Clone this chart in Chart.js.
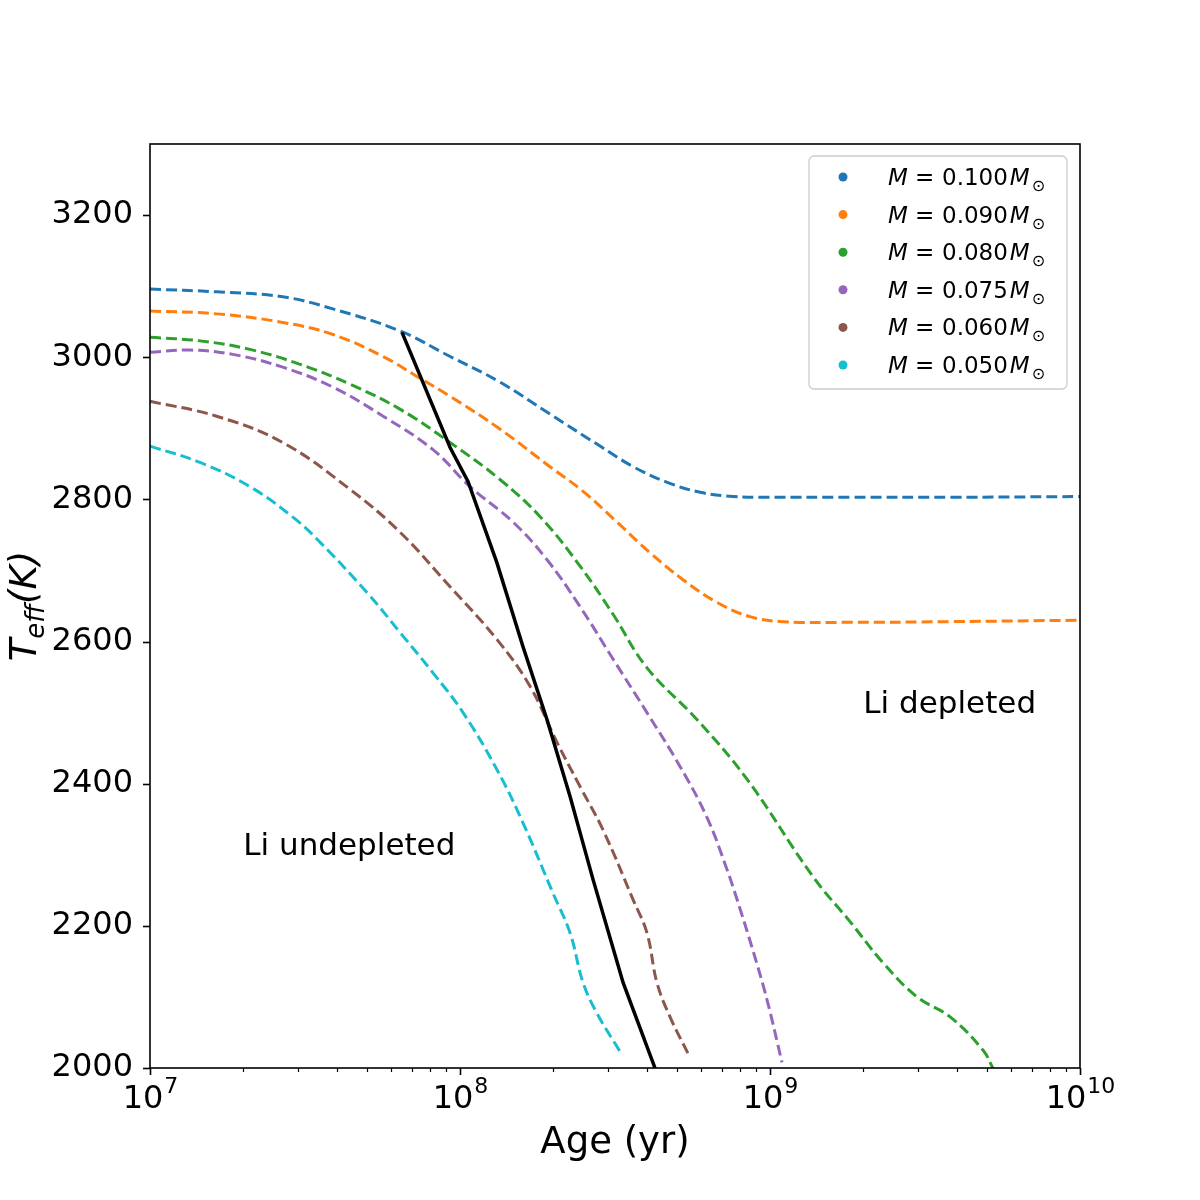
<!DOCTYPE html>
<html>
<head>
<meta charset="utf-8">
<script src="https://cdn.jsdelivr.net/npm/chart.js@4.4.0/dist/chart.umd.min.js"></script>
<style>
  html, body { margin: 0; padding: 0; background: #fff; }
</style>
</head>
<body>
<canvas id="chart" width="1200" height="1200"></canvas>
<script>
// mass tracks: ages in Myr, effective temperature in K
const massLabels = ["0.100", "0.090", "0.080", "0.075", "0.060", "0.050"];
const massColors = ["#1f77b4", "#ff7f0e", "#2ca02c", "#9467bd", "#8c564b", "#17becf"];

const age100 = [10, 16.4, 26.8, 38.9, 64, 92.9, 134.5, 195, 283, 362, 466, 595, 760, 978, 1812, 3810, 10000];
const teff100 = [3096, 3092, 3085, 3068, 3037, 3001, 2965, 2920, 2875, 2846, 2824, 2810, 2804, 2803, 2803, 2803, 2804];

const age090 = [10, 16.4, 26.8, 38.9, 56.5, 72.6, 92.9, 134.5, 195, 250, 321, 410, 524, 675, 861, 1102, 1812, 3810, 10000];
const teff090 = [3065, 3061, 3049, 3032, 3001, 2973, 2945, 2899, 2846, 2811, 2768, 2725, 2687, 2655, 2635, 2628, 2627, 2628, 2630];

const age080 = [10, 14.5, 21, 30.5, 44.2, 64, 92.9, 134.5, 181, 244, 312, 401, 582, 844, 1377, 1812, 2317, 2981, 3810, 4868, 5236];
const teff080 = [3028, 3023, 3011, 2990, 2962, 2927, 2880, 2828, 2776, 2706, 2638, 2563, 2490, 2406, 2269, 2206, 2148, 2100, 2072, 2025, 2000];

const age075 = [10, 13.5, 18.5, 26.8, 38.9, 56.5, 81.8, 107.7, 148.3, 190.9, 244, 312, 401, 513, 627, 727, 783, 880, 978, 1093];
const teff075 = [3007, 3010, 3004, 2986, 2958, 2917, 2870, 2818, 2768, 2715, 2649, 2575, 2500, 2424, 2352, 2279, 2237, 2166, 2096, 2008];

const age060 = [10, 16.4, 26.8, 44.2, 64, 92.9, 131.5, 168.2, 205.6, 243.9, 289.3, 361.6, 401, 431.9, 475.8, 551.8];
const teff060 = [2938, 2917, 2880, 2814, 2754, 2677, 2603, 2537, 2458, 2396, 2335, 2237, 2190, 2120, 2072, 2015];

const age050 = [10, 14.5, 21, 28.9, 34.6, 50.1, 64, 81.8, 102.3, 131.5, 159.6, 199.5, 226.5, 249.5, 276.6, 328.3];
const teff050 = [2875, 2852, 2818, 2775, 2744, 2669, 2613, 2556, 2500, 2420, 2345, 2246, 2190, 2120, 2077, 2023];

// lithium depletion boundary
const ageLiBoundary = [65, 92.9, 106.2, 131.5, 159.6, 190.9, 226.5, 268.7, 335.9, 425.6];
const teffLiBoundary = [3035, 2873, 2825, 2711, 2593, 2490, 2382, 2265, 2120, 2000];

const xExponents = [7, 8, 9, 10];
const yTicks = [2000, 2200, 2400, 2600, 2800, 3000, 3200];

const trackAges = [age100, age090, age080, age075, age060, age050];
const trackTeffs = [teff100, teff090, teff080, teff075, teff060, teff050];

function toPoints(ages, teffs) {
  return ages.map((a, i) => ({ x: a * 1e6, y: teffs[i] }));
}

const datasets = massLabels.map((m, i) => ({
  label: "M = " + m,
  data: toPoints(trackAges[i], trackTeffs[i]),
  borderColor: massColors[i],
  backgroundColor: massColors[i],
  borderWidth: 3,
  borderDash: [11, 5],
  pointRadius: 0,
  tension: 0.4,
  fill: false,
  order: 6 - i
}));

datasets.push({
  label: "Li boundary",
  data: toPoints(ageLiBoundary, teffLiBoundary),
  borderColor: "#000",
  borderWidth: 3.5,
  pointRadius: 0,
  tension: 0,
  fill: false,
  order: 0
});

const FONT = '"DejaVu Sans", sans-serif';

const decorPlugin = {
  id: "decor",
  afterDraw(chart) {
    const { ctx, chartArea: a, scales: { x, y } } = chart;
    ctx.save();

    // frame
    ctx.strokeStyle = "#000";
    ctx.lineWidth = 1.6;
    ctx.strokeRect(a.left, a.top, a.right - a.left, a.bottom - a.top);

    // x ticks (major + minor)
    x.ticks.forEach((t) => {
      const px = Math.round(x.getPixelForValue(t.value)) + 0.5;
      ctx.lineWidth = t.major ? 1.6 : 1.2;
      ctx.beginPath();
      ctx.moveTo(px, a.bottom);
      ctx.lineTo(px, a.bottom + (t.major ? 7 : 4));
      ctx.stroke();
    });

    // y ticks
    y.ticks.forEach((t) => {
      const py = Math.round(y.getPixelForValue(t.value)) + 0.5;
      ctx.lineWidth = 1.6;
      ctx.beginPath();
      ctx.moveTo(a.left, py);
      ctx.lineTo(a.left - 7, py);
      ctx.stroke();
    });

    // x tick labels 10^n
    ctx.fillStyle = "#000";
    ctx.textBaseline = "alphabetic";
    ctx.textAlign = "left";
    xExponents.forEach((e) => {
      const px = x.getPixelForValue(Math.pow(10, e));
      ctx.font = "32px " + FONT;
      const wBase = ctx.measureText("10").width;
      ctx.font = "22px " + FONT;
      const wExp = ctx.measureText(String(e)).width;
      const x0 = px - (wBase + wExp) / 2;
      ctx.font = "32px " + FONT;
      ctx.fillText("10", x0, a.bottom + 40);
      ctx.font = "22px " + FONT;
      ctx.fillText(String(e), x0 + wBase + 1, a.bottom + 25);
    });

    // x axis title
    ctx.font = "37px " + FONT;
    ctx.textAlign = "center";
    ctx.fillText("Age (yr)", (a.left + a.right) / 2, a.bottom + 85);

    // y axis title T_eff(K)
    ctx.save();
    ctx.translate(36, (a.top + a.bottom) / 2);
    ctx.rotate(-Math.PI / 2);
    ctx.textAlign = "left";
    const fMain = "italic 37px " + FONT;
    const fSub = "italic 26px " + FONT;
    ctx.font = fMain; const wT = ctx.measureText("T").width;
    ctx.font = fSub; const wSub = ctx.measureText("eff").width;
    ctx.font = fMain; const wK = ctx.measureText("(K)").width;
    let cx = -(wT + wSub + wK) / 2;
    ctx.font = fMain; ctx.fillText("T", cx, 0); cx += wT;
    ctx.font = fSub; ctx.fillText("eff", cx, 8); cx += wSub;
    ctx.font = fMain; ctx.fillText("(K)", cx, 0);
    ctx.restore();

    // region annotations, placed in data coordinates
    ctx.font = "31px " + FONT;
    ctx.textAlign = "left";
    ctx.fillText("Li depleted", x.getPixelForValue(2e9), y.getPixelForValue(2500));
    ctx.fillText("Li undepleted", x.getPixelForValue(2e7), y.getPixelForValue(2300));

    // legend
    const lx = a.right - 271, ly = a.top + 12, lw = 258, lh = 233;
    ctx.beginPath();
    ctx.roundRect(lx, ly, lw, lh, 5);
    ctx.fillStyle = "rgba(255,255,255,0.8)";
    ctx.fill();
    ctx.strokeStyle = "#cccccc";
    ctx.lineWidth = 1.3;
    ctx.stroke();
    massLabels.forEach((m, i) => {
      const cy = ly + 21 + i * 37.6;
      ctx.fillStyle = massColors[i];
      ctx.beginPath();
      ctx.arc(lx + 34, cy, 4.5, 0, Math.PI * 2);
      ctx.fill();
      ctx.fillStyle = "#000";
      const base = cy + 8;
      let tx = lx + 79;
      ctx.font = "italic 23px " + FONT;
      ctx.fillText("M", tx, base);
      ctx.font = "23px " + FONT;
      ctx.fillText("=", lx + 106, base);
      tx = lx + 133;
      ctx.fillText(m, tx, base);
      tx += ctx.measureText(m).width + 2;
      ctx.font = "italic 23px " + FONT;
      ctx.fillText("M", tx, base);
      tx += ctx.measureText("M").width + 2;
      ctx.font = "16px " + FONT;
      ctx.fillText("\u2299", tx, base + 6);
    });

    ctx.restore();
  }
};

new Chart(document.getElementById("chart"), {
  type: "line",
  data: { datasets: datasets },
  options: {
    responsive: false,
    animation: false,
    events: [],
    layout: { padding: { left: 0, right: 120, top: 144, bottom: 0 } },
    plugins: { legend: { display: false }, tooltip: { enabled: false } },
    scales: {
      x: {
        type: "logarithmic",
        position: "bottom",
        min: 1e7,
        max: 1e10,
        grid: { display: false, drawTicks: false },
        border: { display: false },
        ticks: { display: false, autoSkip: false },
        afterBuildTicks: (s) => {
          const t = [];
          for (let e = 7; e < 10; e++) {
            for (let m = 1; m <= 9; m++) t.push({ value: m * Math.pow(10, e), major: m === 1 });
          }
          t.push({ value: 1e10, major: true });
          s.ticks = t;
        },
        afterFit: (s) => { s.height = 132; }
      },
      y: {
        type: "linear",
        min: 2000,
        max: 3300,
        grid: { display: false, drawTicks: false },
        border: { display: false },
        ticks: {
          color: "#000",
          padding: 17,
          font: { family: "DejaVu Sans", size: 32 },
          callback: (v) => String(v)
        },
        afterBuildTicks: (s) => { s.ticks = yTicks.map((v) => ({ value: v })); },
        afterFit: (s) => { s.width = 150; }
      }
    }
  },
  plugins: [decorPlugin]
});
</script>
</body>
</html>
